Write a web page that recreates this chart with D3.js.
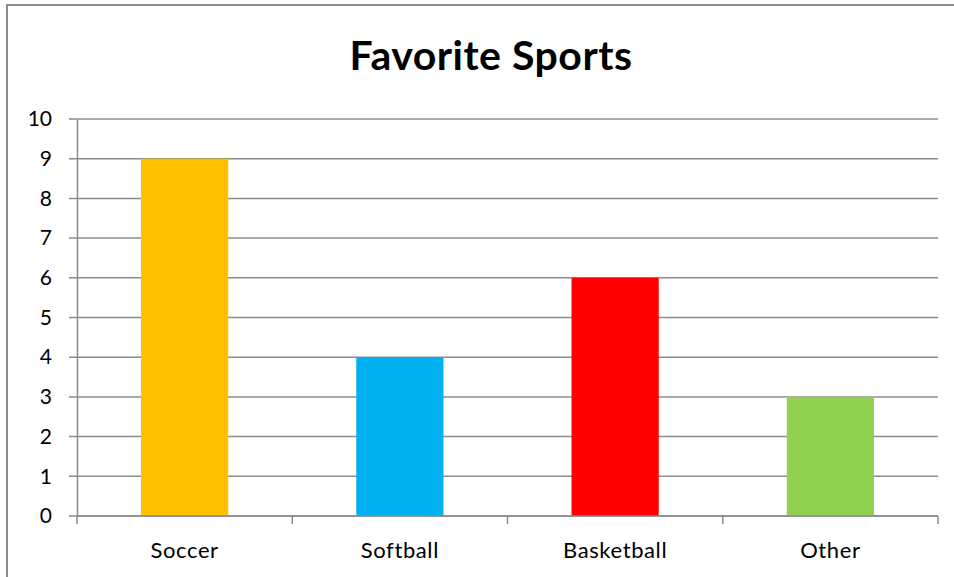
<!DOCTYPE html>
<html>
<head>
<meta charset="utf-8">
<script src="https://cdn.jsdelivr.net/npm/d3@7"></script>
<style>
  body { margin: 0; background: #fff; }
  svg { display: block; }
</style>
</head>
<body>
<svg width="954" height="577"></svg>
<script>
// données du graphique
const categories = ['Soccer', 'Softball', 'Basketball', 'Other'];
const values = [9, 4, 6, 3];
const colors = ['#ffc000', '#00b0f0', '#ff0000', '#92d050'];
const yTicks = [0, 1, 2, 3, 4, 5, 6, 7, 8, 9, 10];
const title = 'Favorite Sports';

const svg = d3.select('svg');
const font = 'Lato, "Open Sans", sans-serif';

// cadre du graphique (coupé à droite et en bas)
svg.append('rect')
  .attr('x', 7).attr('y', 5)
  .attr('width', 980).attr('height', 600)
  .attr('fill', '#fff')
  .attr('stroke', '#8c8c8c')
  .attr('stroke-width', 2);

const margin = {left: 77, right: 16, top: 119, bottom: 61};
const width = 954 - margin.left - margin.right;
const height = 577 - margin.top - margin.bottom;

const g = svg.append('g').attr('transform', `translate(${margin.left},${margin.top})`);

const x = d3.scaleBand().domain(categories).range([0, width]).paddingInner(0.595).paddingOuter(0.2975);
const y = d3.scaleLinear().domain([0, 10]).range([height, 0]);

// lignes de grille
g.selectAll('.grid')
  .data(yTicks)
  .enter().append('line')
  .attr('class', 'grid')
  .attr('x1', -8).attr('x2', width)
  .attr('y1', d => y(d)).attr('y2', d => y(d))
  .attr('stroke', '#8c8c8c')
  .attr('stroke-width', 1.5);

// barres
g.selectAll('.bar')
  .data(values)
  .enter().append('rect')
  .attr('class', 'bar')
  .attr('x', (d, i) => x(categories[i]))
  .attr('y', d => y(d))
  .attr('width', x.bandwidth())
  .attr('height', d => height - y(d))
  .attr('fill', (d, i) => colors[i]);

// axe Y
const yAxis = g.append('g')
  .call(d3.axisLeft(y).tickValues(yTicks).tickSize(0).tickPadding(25));
yAxis.select('.domain').attr('stroke', '#8c8c8c').attr('stroke-width', 1.5);
yAxis.selectAll('text').attr('font-family', font).attr('font-size', 21).attr('fill', '#000');

// axe X avec graduations entre les catégories
const xAxis = g.append('g').attr('transform', `translate(0,${height})`);
xAxis.append('line')
  .attr('x1', 0).attr('x2', width)
  .attr('stroke', '#8c8c8c').attr('stroke-width', 1.5);
const bounds = d3.range(categories.length + 1).map(i => i * width / categories.length);
xAxis.selectAll('.xtick')
  .data(bounds)
  .enter().append('line')
  .attr('class', 'xtick')
  .attr('x1', d => d).attr('x2', d => d)
  .attr('y1', 0).attr('y2', 8)
  .attr('stroke', '#8c8c8c').attr('stroke-width', 1.5);
xAxis.selectAll('.xlabel')
  .data(categories)
  .enter().append('text')
  .attr('class', 'xlabel')
  .attr('x', d => x(d) + x.bandwidth() / 2)
  .attr('y', 42)
  .attr('text-anchor', 'middle')
  .attr('font-family', font)
  .attr('font-size', 22)
  .attr('letter-spacing', 0.6)
  .text(d => d);

// titre
svg.append('text')
  .attr('x', 491).attr('y', 70)
  .attr('text-anchor', 'middle')
  .attr('font-family', font)
  .attr('font-weight', 'bold')
  .attr('font-size', 41)
  .attr('letter-spacing', 0.5)
  .text(title);
</script>
</body>
</html>
